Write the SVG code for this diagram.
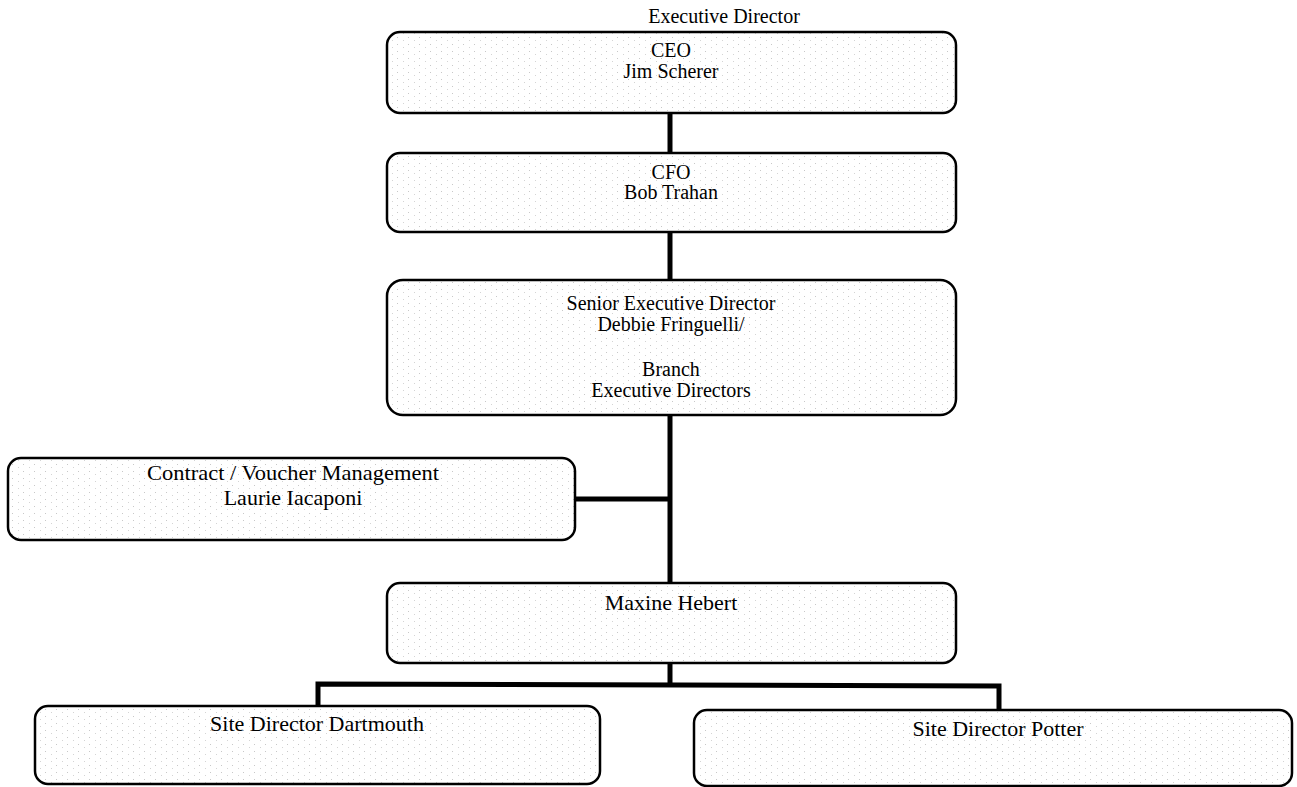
<svg xmlns="http://www.w3.org/2000/svg" width="1297" height="787" viewBox="0 0 1297 787">
<defs>
<pattern id="stip" width="11" height="7" patternUnits="userSpaceOnUse">
<rect x="1" y="2" width="1" height="1" fill="#c8c8c8"/>
<rect x="7" y="5" width="1" height="1" fill="#d4d4d4"/>
</pattern>
<style>
.box{fill:url(#stip);stroke:#000;stroke-width:2.5}
.t{font-family:"Liberation Serif","Times New Roman",serif;font-size:20px;fill:#000;text-anchor:middle}
.l{font-size:22px}
.c{stroke:#000;stroke-width:5;fill:none}
</style>
</defs>
<rect width="1297" height="787" fill="#fff"/>
<text class="t" x="724" y="23">Executive Director</text>
<g id="connectors">
<line class="c" x1="670" y1="113" x2="670" y2="153"/>
<line class="c" x1="670" y1="232" x2="670" y2="280"/>
<line class="c" x1="670" y1="415" x2="670" y2="583"/>
<line class="c" x1="575" y1="499" x2="670" y2="499"/>
<line class="c" x1="670" y1="663" x2="670" y2="685"/>
<polyline class="c" points="318,706 318,684 999,686 999,710"/>
</g>
<g id="ceo">
<rect class="box" x="387" y="32" width="569" height="81" rx="13"/>
<text class="t" x="671" y="57">CEO</text>
<text class="t" x="671" y="78">Jim Scherer</text>
</g>
<g id="cfo">
<rect class="box" x="387" y="153" width="569" height="79" rx="13"/>
<text class="t" x="671" y="179">CFO</text>
<text class="t" x="671" y="199">Bob Trahan</text>
</g>
<g id="senior">
<rect class="box" x="387" y="280" width="569" height="135" rx="16"/>
<text class="t" x="671" y="310">Senior Executive Director</text>
<text class="t" x="671" y="331">Debbie Fringuelli/</text>
<text class="t" x="671" y="376">Branch</text>
<text class="t" x="671" y="397">Executive Directors</text>
</g>
<g id="contract">
<rect class="box" x="8" y="458" width="567" height="82" rx="13"/>
<text class="t l" x="293" y="480" textLength="292" lengthAdjust="spacingAndGlyphs">Contract / Voucher Management</text>
<text class="t l" x="293" y="505">Laurie Iacaponi</text>
</g>
<g id="maxine">
<rect class="box" x="387" y="583" width="569" height="80" rx="13"/>
<text class="t l" x="671" y="610">Maxine Hebert</text>
</g>
<g id="dartmouth">
<rect class="box" x="35" y="706" width="565" height="78" rx="13"/>
<text class="t l" x="317" y="731">Site Director Dartmouth</text>
</g>
<g id="potter">
<rect class="box" x="694" y="710" width="598" height="76" rx="13"/>
<text class="t l" x="998" y="736">Site Director Potter</text>
</g>
</svg>
